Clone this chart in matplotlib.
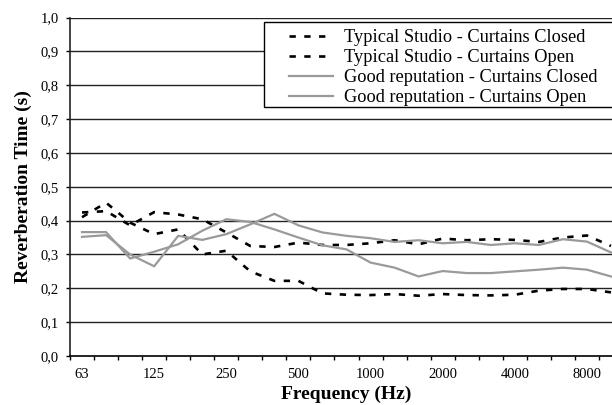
import matplotlib
matplotlib.use("Agg")
import matplotlib.pyplot as plt
from matplotlib.patches import Rectangle

# third-octave bands, 63 Hz .. 10 kHz
bands = [63, 80, 100, 125, 160, 200, 250, 315, 400, 500, 630, 800,
         1000, 1250, 1600, 2000, 2500, 3150, 4000, 5000, 6300, 8000, 10000]
labelled = [63, 125, 250, 500, 1000, 2000, 4000, 8000]

typical_closed = [0.41, 0.453, 0.394, 0.360, 0.374, 0.300, 0.311, 0.250, 0.222, 0.222, 0.185,
                  0.181, 0.180, 0.183, 0.178, 0.183, 0.180, 0.179, 0.181, 0.193, 0.198, 0.198, 0.188]
typical_open = [0.424, 0.428, 0.386, 0.425, 0.418, 0.404, 0.365, 0.325, 0.322, 0.335, 0.328,
                0.328, 0.333, 0.342, 0.330, 0.347, 0.342, 0.345, 0.343, 0.337, 0.350, 0.356, 0.325]
good_closed = [0.366, 0.366, 0.288, 0.308, 0.330, 0.370, 0.404, 0.396, 0.374, 0.350, 0.327,
               0.315, 0.276, 0.261, 0.235, 0.251, 0.245, 0.245, 0.250, 0.255, 0.261, 0.255, 0.235]
good_open = [0.352, 0.357, 0.300, 0.265, 0.355, 0.343, 0.360, 0.389, 0.420, 0.386, 0.365,
             0.355, 0.348, 0.337, 0.342, 0.333, 0.337, 0.328, 0.333, 0.328, 0.345, 0.338, 0.306]

series = [
    ("Typical Studio - Curtains Closed", typical_closed),
    ("Typical Studio - Curtains Open", typical_open),
    ("Good reputation - Curtains Closed", good_closed),
    ("Good reputation - Curtains Open", good_open),
]

plt.rcParams['font.family'] = ['Liberation Serif', 'DejaVu Serif']

W, H = 612, 405
fig = plt.figure(figsize=(W / 100, H / 100), dpi=100)
# the plot area runs past the right edge of the picture, like the original
ax = fig.add_axes([70 / W, 1 - 356 / H, 553 / W, (356 - 17.5) / H])

x = list(range(len(bands)))
dot = (0, (2.4, 3.2))
for i, (name, vals) in enumerate(series):
    if i < 2:
        ax.plot(x, vals, color='black', lw=1.9, linestyle=dot, label=name)
    else:
        ax.plot(x, vals, color='#9a9a9a', lw=1.6, label=name)

ax.set_xlim(-0.5, len(bands) - 0.5)
ax.set_ylim(0, 1.0)

yt = [i / 10 for i in range(11)]
ax.set_yticks(yt)
ax.set_yticklabels([f"{v:.1f}".replace('.', ',') for v in yt], fontsize=10.5)
for v in yt[1:]:
    ax.axhline(v, color='#222222', lw=1.0, zorder=0)

ax.set_xticks([i - 0.5 for i in range(len(bands) + 1)])
ax.set_xticklabels([])
ax.set_xticks([bands.index(b) for b in labelled], minor=True)
ax.set_xticklabels([str(b) for b in labelled], minor=True, fontsize=10.5)
ax.tick_params(axis='x', which='major', direction='out', length=3, width=1)
ax.tick_params(axis='x', which='minor', length=0, pad=9)
ax.tick_params(axis='y', direction='out', length=3, width=1, pad=5)

for s in ['top', 'right']:
    ax.spines[s].set_visible(False)
ax.spines['left'].set_linewidth(1.2)
ax.spines['left'].set_color('#222222')
ax.spines['bottom'].set_linewidth(1.2)

ax.set_xlabel('Frequency (Hz)', fontsize=14, fontweight='bold', labelpad=3)
ax.set_ylabel('Reverberation Time (s)', fontsize=14, fontweight='bold', labelpad=6)

# legend: frameless entries plus a box that runs off the right edge
fig.patches.append(Rectangle((264 / W, 1 - 106.7 / H), 400 / W, (106.7 - 22.3) / H,
                             transform=fig.transFigure, facecolor='white',
                             edgecolor='black', lw=1.0, zorder=3))
leg = fig.legend(loc='upper left', bbox_to_anchor=(289 / W, 1 - 29.5 / H),
                 frameon=False, fontsize=13.2, handlelength=2.4,
                 handletextpad=0.6, labelspacing=0.16, borderpad=0, borderaxespad=0)
leg.set_zorder(4)

fig.savefig('out.png', dpi=100)
